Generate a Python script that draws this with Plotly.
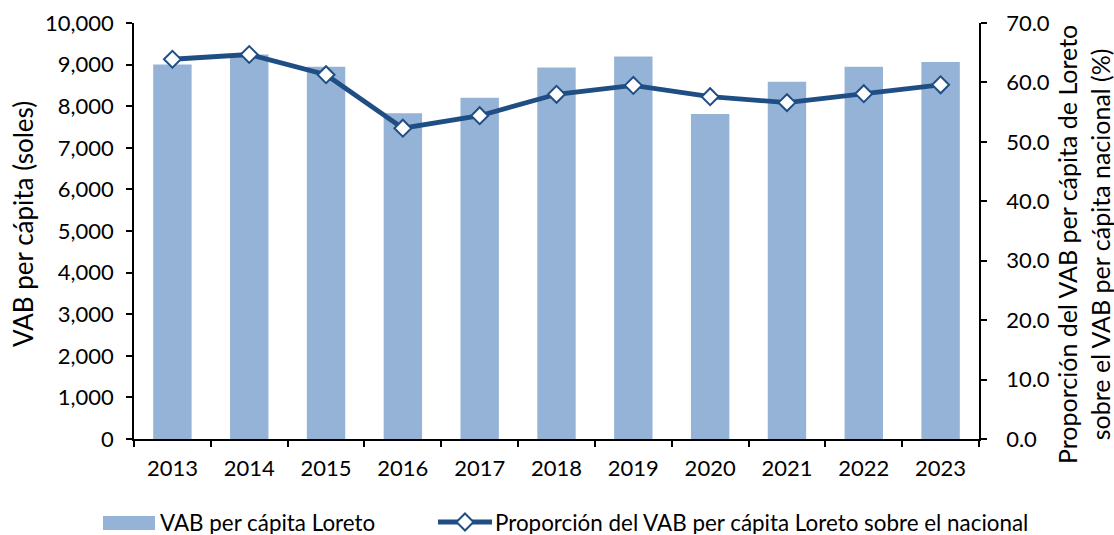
import plotly.graph_objects as go

years = ["2013", "2014", "2015", "2016", "2017", "2018", "2019", "2020", "2021", "2022", "2023"]
vab_loreto = [9000, 9240, 8950, 7830, 8205, 8930, 9195, 7815, 8585, 8950, 9065]
proporcion = [63.9, 64.7, 61.3, 52.3, 54.4, 58.0, 59.5, 57.6, 56.6, 58.1, 59.6]

bar_label = "VAB per cápita Loreto"
line_label = "Proporción del VAB per cápita Loreto sobre el nacional"
left_title = "VAB per cápita (soles)"
right_title = "Proporción del VAB per cápita de Loreto<br>sobre el VAB per cápita nacional (%)"

FONT = "Lato"
BAR_COLOR = "#95B3D7"
LINE_COLOR = "#1F4E84"

W, H = 1114, 535
ML, MR, MT, MB = 134, 135, 23, 96
PW, PH = W - ML - MR, H - MT - MB


def px(x):
    """Horizontal pixel position -> paper coordinate."""
    return (x - ML) / PW


def py(y):
    """Vertical pixel position (from top) -> paper coordinate."""
    return (H - MB - y) / PH


fig = go.Figure()

fig.add_trace(go.Bar(
    x=years, y=vab_loreto,
    name=bar_label,
    marker=dict(color=BAR_COLOR, line=dict(width=0)),
    yaxis="y",
))

fig.add_trace(go.Scatter(
    x=years, y=proporcion,
    name=line_label,
    mode="lines+markers",
    line=dict(color=LINE_COLOR, width=4.8),
    marker=dict(symbol="diamond", size=13, color="white",
                line=dict(color=LINE_COLOR, width=2)),
    yaxis="y2",
))

axis_common = dict(
    showgrid=False, zeroline=False, showline=True, automargin=False,
    linecolor="black", linewidth=1.5,
    ticks="outside", ticklen=6, tickwidth=1.5, tickcolor="black",
    tickfont=dict(family=FONT, size=22, color="black"),
)

# Legend drawn beneath the plot: swatch, line sample with diamond, labels
leg_y = 522
shapes = [
    dict(type="rect", xref="paper", yref="paper",
         x0=px(103), x1=px(155), y0=py(530), y1=py(516),
         fillcolor=BAR_COLOR, line=dict(width=0)),
    dict(type="line", xref="paper", yref="paper",
         x0=px(438), x1=px(492), y0=py(leg_y), y1=py(leg_y),
         line=dict(color=LINE_COLOR, width=4.8)),
    dict(type="path", xref="paper", yref="paper",
         xsizemode="pixel", ysizemode="pixel",
         xanchor=px(465), yanchor=py(leg_y),
         path="M -8.5 0 L 0 8.5 L 8.5 0 L 0 -8.5 Z",
         fillcolor="white", line=dict(color=LINE_COLOR, width=2)),
]
legend_font = dict(family=FONT, size=22.4, color="black")
annotations = [
    dict(text=bar_label, xref="paper", yref="paper",
         x=px(159), y=py(leg_y), xanchor="left", yanchor="middle",
         height=24, valign="middle", borderpad=0,
         showarrow=False, font=legend_font),
    dict(text=line_label, xref="paper", yref="paper",
         x=px(494), y=py(leg_y), xanchor="left", yanchor="middle",
         height=24, valign="middle", borderpad=0,
         showarrow=False, font=legend_font),
    # Axis titles
    dict(text=left_title, xref="paper", yref="paper",
         x=px(23), y=py(224), xanchor="center", yanchor="middle",
         textangle=-90, showarrow=False,
         font=dict(family=FONT, size=26, color="black")),
    dict(text=right_title, xref="paper", yref="paper",
         x=px(1083), y=py(245), xanchor="center", yanchor="middle",
         textangle=-90, showarrow=False, align="center",
         font=dict(family=FONT, size=25, color="black")),
]

fig.update_layout(
    width=W, height=H,
    margin=dict(l=ML, r=MR, t=MT, b=MB),
    paper_bgcolor="white", plot_bgcolor="white",
    font=dict(family=FONT, size=22, color="black"),
    bargap=0.5,
    showlegend=False,
    shapes=shapes,
    annotations=annotations,
    xaxis=dict(
        **axis_common,
        tickson="boundaries",
        type="category",
        range=[-0.5, len(years) - 0.5],
        ticklabelstandoff=9,
    ),
    yaxis=dict(
        **axis_common,
        range=[0, 10000], dtick=1000, tickformat=",",
        ticklabelstandoff=8,
    ),
    yaxis2=dict(
        **axis_common,
        overlaying="y", side="right",
        range=[0, 70], dtick=10, tickformat=".1f",
        ticklabelstandoff=15,
    ),
)

fig.write_html("out.html")
